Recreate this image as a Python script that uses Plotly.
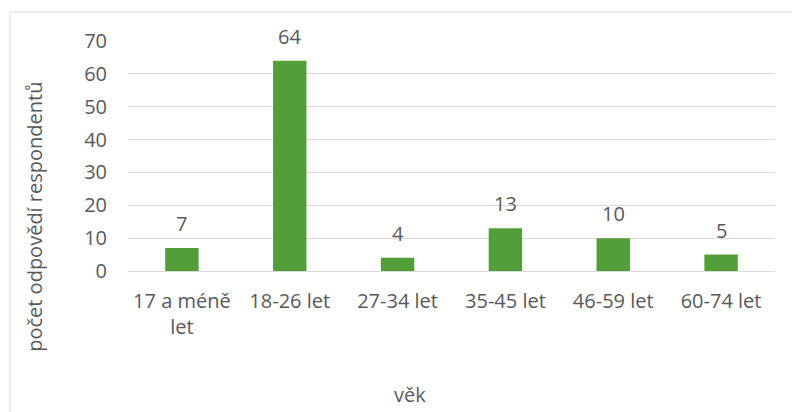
import plotly.graph_objects as go

categories = ["17 a méně<br>let", "18-26 let", "27-34 let", "35-45 let", "46-59 let", "60-74 let"]
counts = [7, 64, 4, 13, 10, 5]
y_ticks = [0, 10, 20, 30, 40, 50, 60, 70]

bar_color = "#549E39"
text_color = "#595959"
font_family = "Open Sans, DejaVu Sans, sans-serif"
fs = 20

fig = go.Figure(
    go.Bar(
        x=categories,
        y=counts,
        marker=dict(color=bar_color, line=dict(width=0)),
        width=0.31,
        hoverinfo="skip",
    )
)

# value labels above each bar
for cat, val in zip(categories, counts):
    fig.add_annotation(
        x=cat, y=val, text=str(val), showarrow=False,
        yanchor="bottom", yshift=9,
        font=dict(family=font_family, size=fs, color=text_color),
    )

# axis titles
fig.add_annotation(
    text="věk", xref="paper", yref="paper", x=0.436, y=-0.535,
    xanchor="center", yanchor="middle", showarrow=False,
    font=dict(family=font_family, size=fs, color=text_color),
)
fig.add_annotation(
    text="počet odpovědí respondentů", xref="paper", yref="paper", x=-0.144, y=0.235,
    xanchor="center", yanchor="middle", textangle=-90, showarrow=False,
    font=dict(family=font_family, size=fs, color=text_color),
)

# light chart-area frame
fig.add_shape(
    type="rect", xref="paper", yref="paper",
    x0=-0.1824, x1=1.2, y0=-1.0, y1=1.126,
    line=dict(color="#D9D9D9", width=1), fillcolor="rgba(0,0,0,0)", layer="below",
)

fig.update_layout(
    width=792, height=412,
    margin=dict(l=128, r=17, t=41, b=141),
    paper_bgcolor="white", plot_bgcolor="white",
    showlegend=False,
    font=dict(family=font_family, size=fs, color=text_color),
    xaxis=dict(
        showgrid=False, showline=True, linecolor="#D9D9D9", linewidth=1,
        ticks="", tickfont=dict(size=fs, color=text_color), ticklabelstandoff=12,
    ),
    yaxis=dict(
        range=[0, 70], tickvals=y_ticks, showgrid=True, gridcolor="#D9D9D9", gridwidth=1,
        zeroline=False, showline=False, ticks="", tickfont=dict(size=fs, color=text_color),
        ticklabelstandoff=20,
    ),
)

fig.write_html("out.html")
